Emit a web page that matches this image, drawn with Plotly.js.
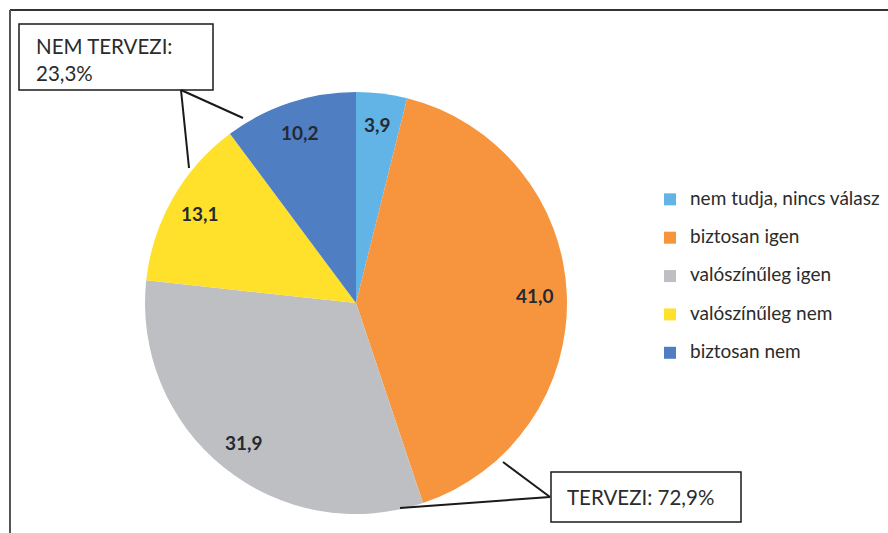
<!DOCTYPE html>
<html>
<head>
<meta charset="utf-8">
<script src="https://cdn.plot.ly/plotly-3.0.1.min.js"></script>
<style>html,body{margin:0;padding:0;background:#fff;}#chart{width:888px;height:533px;}</style>
</head>
<body>
<div id="chart"></div>
<script>
// ---- data ----
var categories = ["nem tudja, nincs válasz", "biztosan igen", "valószínűleg igen", "valószínűleg nem", "biztosan nem"];
var values = [3.9, 41.0, 31.9, 13.1, 10.2];
var colors = ["#63B4E6", "#F7953F", "#BDBFC2", "#FFE12B", "#4F7EC2"];
var groupTexts = ["NEM TERVEZI:<br>23,3%", "TERVEZI: 72,9%"];

// ---- layout helpers (pixel -> paper) ----
var W = 888, H = 533;
function px(x) { return x / W; }
function py(y) { return 1 - y / H; }

// pie geometry (layout)
var PIE = { left: 145, right: 567, top: 92, bottom: 514 };
var cx = (PIE.left + PIE.right) / 2, cy = (PIE.top + PIE.bottom) / 2;
var R = (PIE.right - PIE.left) / 2;
var LABEL_R = 0.85;

var legendLabels = categories.map(function (c) {
  return "<span style='font-size:19px'>" + c + "</span><br>&nbsp;";
});

var trace = {
  type: "pie",
  labels: legendLabels,
  values: values,
  sort: false,
  direction: "clockwise",
  rotation: 0,
  marker: { colors: colors, line: { width: 0 } },
  textinfo: "none",
  hoverinfo: "none",
  domain: { x: [px(PIE.left), px(PIE.right)], y: [py(PIE.bottom), py(PIE.top)] }
};

// value labels placed along each slice's mid-angle (derived from the values)
var total = values.reduce(function (a, b) { return a + b; }, 0);
var cum = 0;
var labelAnns = values.map(function (v) {
  var mid = (cum + v / 2) / total * 2 * Math.PI;
  cum += v;
  var x = cx + LABEL_R * R * Math.sin(mid);
  var y = cy - LABEL_R * R * Math.cos(mid);
  return {
    xref: "paper", yref: "paper", x: px(x), y: py(y), xanchor: "center", yanchor: "middle",
    text: v.toFixed(1).replace(".", ","), showarrow: false,
    font: { family: "Lato, sans-serif", size: 19, color: "#242a33", weight: "bold" }
  };
});

var lineStyle = { color: "#1a1a1a", width: 2 };
var shapes = [
  // frame
  { type: "line", xref: "paper", yref: "paper", x0: px(10), y0: py(10), x1: px(888), y1: py(10), line: { color: "#333", width: 2 } },
  { type: "line", xref: "paper", yref: "paper", x0: px(10), y0: py(10), x1: px(10), y1: py(533), line: { color: "#555", width: 2 } },
  // box 1
  { type: "rect", xref: "paper", yref: "paper", x0: px(19), y0: py(24), x1: px(213), y1: py(90), line: { color: "#1a1a1a", width: 1.5 }, fillcolor: "rgba(0,0,0,0)" },
  { type: "line", xref: "paper", yref: "paper", x0: px(181), y0: py(90), x1: px(189), y1: py(168), line: lineStyle },
  { type: "line", xref: "paper", yref: "paper", x0: px(181), y0: py(90), x1: px(243), y1: py(118), line: lineStyle },
  // box 2
  { type: "rect", xref: "paper", yref: "paper", x0: px(551), y0: py(472), x1: px(741), y1: py(522), line: { color: "#1a1a1a", width: 1.5 }, fillcolor: "rgba(0,0,0,0)" },
  { type: "line", xref: "paper", yref: "paper", x0: px(550), y0: py(497), x1: px(503), y1: py(462), line: lineStyle },
  { type: "line", xref: "paper", yref: "paper", x0: px(550), y0: py(497), x1: px(400), y1: py(508), line: lineStyle }
];

var annotations = [
  { xref: "paper", yref: "paper", x: px(34), y: py(59), xanchor: "left", yanchor: "middle", align: "left",
    text: groupTexts[0], showarrow: false, font: { family: "Lato, sans-serif", size: 20.5, color: "#2b2b2b" } },
  { xref: "paper", yref: "paper", x: px(565), y: py(497), xanchor: "left", yanchor: "middle", align: "left",
    text: groupTexts[1], showarrow: false, font: { family: "Lato, sans-serif", size: 20.5, color: "#2b2b2b" } }
].concat(labelAnns);

var layout = {
  width: W, height: H,
  margin: { l: 0, r: 0, t: 0, b: 0 },
  paper_bgcolor: "#ffffff",
  separators: ", ",
  showlegend: true,
  legend: {
    x: px(650), y: py(184), xanchor: "left", yanchor: "top",
    font: { family: "Lato, sans-serif", size: 13.6, color: "#2b2b2b" },
    valign: "top",
    bgcolor: "rgba(0,0,0,0)",
    itemclick: false, itemdoubleclick: false
  },
  shapes: shapes,
  annotations: annotations
};

Plotly.newPlot("chart", [trace], layout, { displayModeBar: false, staticPlot: true });
</script>
</body>
</html>
